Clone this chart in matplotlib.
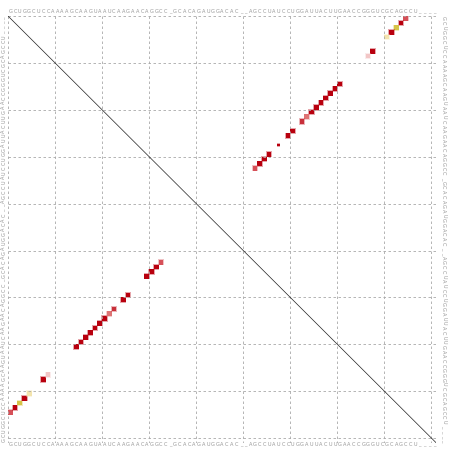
import matplotlib
matplotlib.use("Agg")
import matplotlib.pyplot as plt
from matplotlib.patches import Rectangle
from matplotlib.colors import to_rgba

# sequence shown on all four sides
seq = "GCUGGCUCCAAAAGCAAGUAAUCAAGAACAGGCC_GCACAGAUGGACAC__AGCCUAUCCUGGAUUACUUGAACCGGGUCGCAGCCU____"
n = len(seq)

# base pairs (i, j), 0-based
pair_i = [0, 1, 2, 3, 4, 7, 8, 14, 15, 16, 17, 18, 19, 20, 21, 22, 24, 25, 29, 30, 31, 32]
pair_j = [84, 83, 82, 81, 80, 77, 76, 70, 69, 68, 67, 66, 65, 64, 63, 62, 60, 59, 55, 54, 53, 52]
pair_col = ["#d65058", "#b8000e", "#d6c448", "#b8000e", "#f3e4ae",
            "#b8000e", "#f2c6c6",
            "#b8000e", "#b8000e", "#b8000e", "#b8000e", "#b8000e", "#b8000e", "#b8000e",
            "#de7474", "#c8303a", "#b8000e", "#b8000e",
            "#b8000e", "#b8000e", "#b8000e", "#d65058"]

# extra low-probability pair only in the upper triangle
extra_i = [27]
extra_j = [57]
extra_size = [0.45]

fig = plt.figure(figsize=(4.52, 4.51), dpi=100)
ax = fig.add_axes([8 / 452, 1 - (16 + n * 4.69) / 451, n * 4.705 / 452, n * 4.69 / 451])
ax.set_xlim(0, n)
ax.set_ylim(n, 0)
ax.axis("off")

grid = dict(color="#a8a8a8", lw=0.6, ls=(0, (3, 3)))
for k in range(0, n, 10):
    ax.plot([0, n], [k, k], **grid)
    ax.plot([k, k], [0, n], **grid)

ax.plot([0, n], [0, n], color="#202020", lw=0.5)

def square(x, y, c, s=1.0):
    # faint halo, then the square itself
    ax.add_patch(Rectangle((x + 0.5 - s / 2 - 0.15, y + 0.5 - s / 2 - 0.15), s + 0.3, s + 0.3,
                           facecolor=to_rgba(c, 0.35), edgecolor="none"))
    ax.add_patch(Rectangle((x + 0.5 - s / 2, y + 0.5 - s / 2), s, s,
                           facecolor=c, edgecolor="none"))

for i, j, c in zip(pair_i, pair_j, pair_col):
    square(j, i, c)   # upper right: probabilities
    square(i, j, c)   # lower left: structure
for i, j, s in zip(extra_i, extra_j, extra_size):
    square(j, i, "#b8000e", s)

tkw = dict(fontsize=3.6, color="#959595", ha="center", va="center", clip_on=False)
for k, ch in enumerate(seq):
    ax.text(k + 0.5, -1.0, ch, **tkw)
    ax.text(k + 0.5, n + 0.4, ch, **tkw)
    ax.text(n + 1.6, k + 0.5, ch, rotation=-90, **tkw)
    ax.text(-0.9, n - k - 0.5, ch, rotation=90, **tkw)

fig.savefig("out.png", dpi=100)
